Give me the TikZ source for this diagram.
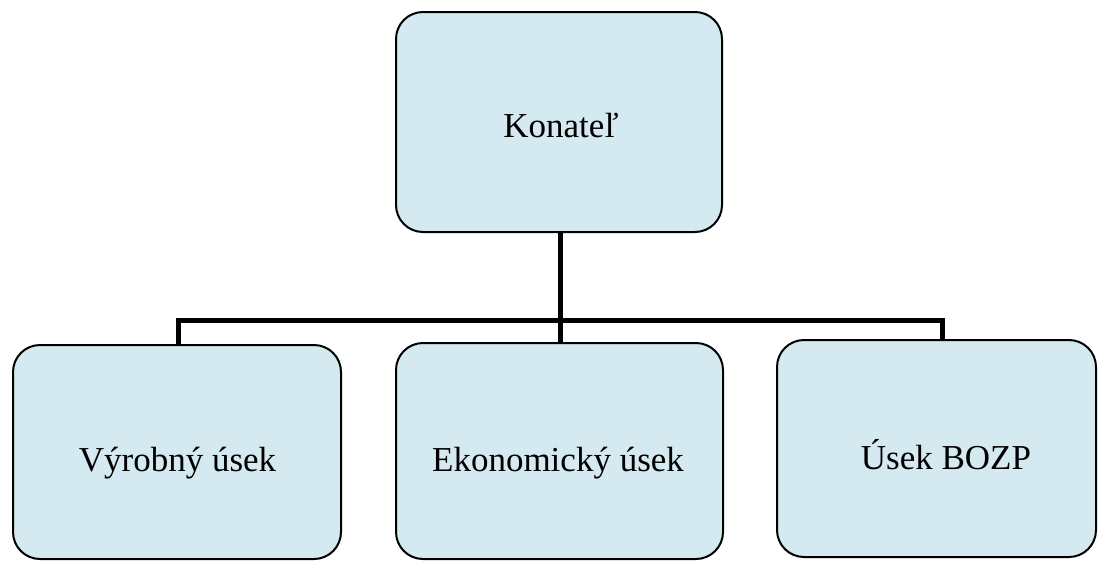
\documentclass[tikz,border=0pt]{standalone}
\usepackage{fontspec}
\setmainfont{Liberation Serif}
\definecolor{boxfill}{RGB}{212,233,240}
\tikzset{
  orgbox/.style={draw=black, line width=2pt, fill=boxfill, rounded corners=27pt, inner sep=0pt, rectangle},
  lbl/.style={anchor=base, inner sep=0pt, font=\fontsize{35}{42}\selectfont},
  conn/.style={draw=black, line width=5pt, line join=miter}
}
\begin{document}
\begin{tikzpicture}[x=1pt, y=-1pt]
\useasboundingbox[fill=white] (0,0) rectangle (1098,560);
% boxes
\node[orgbox, minimum width=326pt, minimum height=220pt] (k) at (559,122) {};
\node[orgbox, minimum width=328pt, minimum height=214pt] (l) at (177,452) {};
\node[orgbox, minimum width=327pt, minimum height=216pt] (m) at (559.5,451) {};
\node[orgbox, minimum width=319pt, minimum height=217pt] (r) at (936.5,448.5) {};
% labels
\node[lbl] (tk) at (561,137) {Konateľ};
\node[lbl] (tl) at (177.5,471) {Výrobný úsek};
\node[lbl] (tm) at (558,471) {Ekonomický úsek};
\node[lbl] (tr) at (946,469) {Úsek BOZP};
% connectors
\coordinate (jl) at (178,320);
\coordinate (jm) at (560,320);
\coordinate (jr) at (942,320);
\draw[conn] (jm |- k.south) -- (jm |- m.north);
\draw[conn] (jl |- l.north) -- (jl) -- (jr) -- (jr |- r.north);
\end{tikzpicture}
\end{document}
